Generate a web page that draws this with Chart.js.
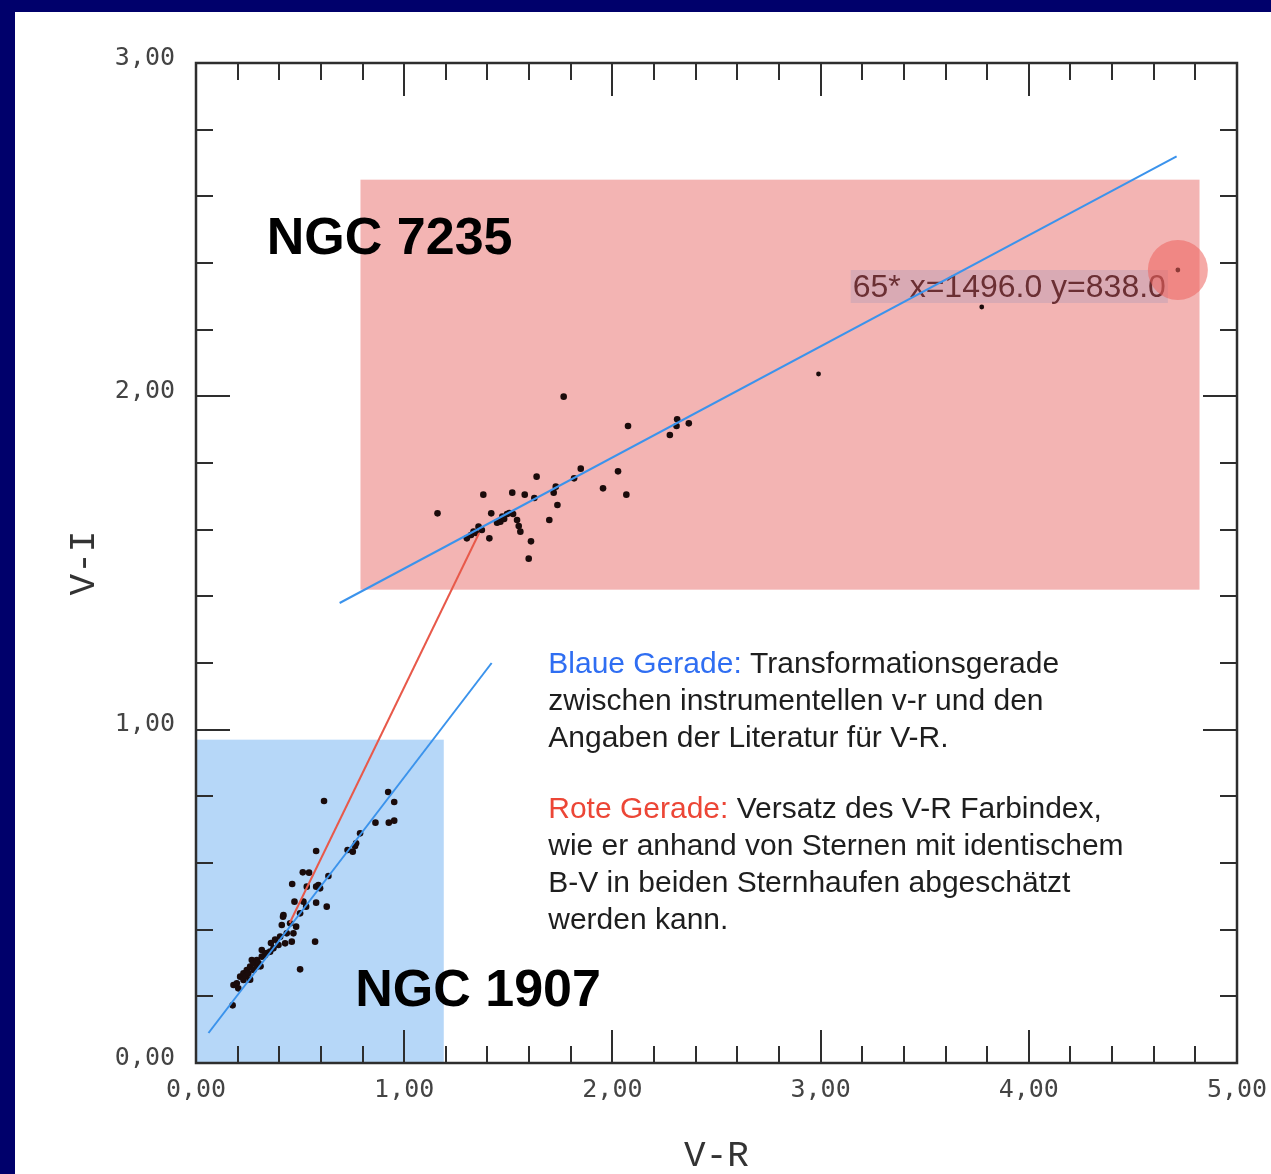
<!DOCTYPE html>
<html lang="de">
<head>
<meta charset="utf-8">
<title>V-R gegen V-I: NGC 1907 und NGC 7235</title>
<script src="https://cdn.jsdelivr.net/npm/chart.js@4.4.1/dist/chart.umd.min.js"></script>
<style>
    html, body { margin: 0; padding: 0; background: #00006b; overflow: hidden; }
    #panel { position: absolute; left: 15px; top: 12px; right: 0; bottom: 0; background: #fff; }
    #wrap { position: absolute; left: 0; top: 0; width: 1271px; height: 1174px; }
</style>
</head>
<body>
<div id="panel"></div>
<div id="wrap"><canvas id="chart" width="1271" height="1174"></canvas></div>
<script>
// Sterne NGC 1907 (V-R, V-I)
const ngc1907X = [0.176, 0.180, 0.196, 0.203, 0.212, 0.228, 0.228, 0.240, 0.244, 0.251, 0.260, 0.260, 0.268, 0.276, 0.276,
    0.292, 0.292, 0.300, 0.310, 0.316, 0.316, 0.332, 0.340, 0.356, 0.360, 0.372, 0.380, 0.396, 0.404, 0.412, 0.418, 0.420,
    0.428, 0.436, 0.452, 0.460, 0.462, 0.468, 0.473, 0.481, 0.500, 0.500, 0.513, 0.516, 0.529, 0.532, 0.543, 0.572,
    0.577, 0.577, 0.577, 0.588, 0.596, 0.615, 0.628, 0.636, 0.728, 0.753, 0.764, 0.769, 0.788, 0.862, 0.923, 0.926,
    0.952, 0.952];
const ngc1907Y = [0.173, 0.234, 0.239, 0.224, 0.259, 0.269, 0.249, 0.260, 0.279, 0.269, 0.289, 0.250, 0.309, 0.299, 0.279,
    0.309, 0.289, 0.300, 0.290, 0.339, 0.319, 0.324, 0.330, 0.334, 0.360, 0.344, 0.370, 0.354, 0.379, 0.414, 0.439, 0.444,
    0.359, 0.389, 0.419, 0.364, 0.537, 0.389, 0.484, 0.409, 0.449, 0.281, 0.572, 0.484, 0.469, 0.529, 0.571, 0.364,
    0.636, 0.529, 0.481, 0.534, 0.524, 0.786, 0.469, 0.561, 0.639, 0.634, 0.651, 0.659, 0.689, 0.721, 0.813, 0.721,
    0.783, 0.727];

// Sterne NGC 7235 (V-R, V-I)
const ngc7235X = [1.160, 1.301, 1.321, 1.333, 1.357, 1.373, 1.380, 1.409, 1.418, 1.446, 1.462, 1.471, 1.494, 1.519,
    1.523, 1.542, 1.550, 1.558, 1.579, 1.598, 1.609, 1.625, 1.636, 1.697, 1.718, 1.728, 1.736, 1.766, 1.816, 1.848,
    1.955, 2.027, 2.067, 2.075, 2.276, 2.308, 2.311, 2.367, 1.345, 1.480, 1.505];
const ngc7235Y = [1.649, 1.574, 1.584, 1.594, 1.609, 1.599, 1.705, 1.574, 1.649, 1.621, 1.624, 1.639, 1.647, 1.711,
    1.647, 1.629, 1.611, 1.594, 1.705, 1.513, 1.565, 1.695, 1.759, 1.629, 1.711, 1.729, 1.674, 1.999, 1.754, 1.783,
    1.724, 1.775, 1.705, 1.911, 1.884, 1.911, 1.931, 1.919, 1.590, 1.632, 1.650];

// helle Einzelsterne NGC 7235
const brightX = [2.990, 3.774, 4.716];
const brightY = [2.067, 2.268, 2.379];

// markierter Stern (Cursor)
const cursorX = [4.716];
const cursorY = [2.379];
const cursorText = '65* x=1496.0 y=838.0';

// Geraden
const fit7235X = [0.69, 4.71];
const fit7235Y = [1.38, 2.72];
const fit1907X = [0.06, 1.42];
const fit1907Y = [0.09, 1.20];
const offsetX = [0.45, 1.36];
const offsetY = [0.42, 1.59];

// Bereiche der Sternhaufen
const box7235X = [0.79, 4.82];
const box7235Y = [1.42, 2.65];
const box1907X = [0, 1.19];
const box1907Y = [0, 0.97];

// Achsen
const xRange = [0, 5];
const yRange = [0, 3];
const minorStep = 0.2;

const toPoints = (xs, ys) => xs.map((x, i) => ({ x: x, y: ys[i] }));
const fmtTick = v => Number(v).toFixed(2).replace('.', ',');

const tickFont = { family: 'DejaVu Sans Mono', size: 25 };
const titleFont = { family: 'Liberation Mono', size: 36, lineHeight: 1 };

// Hintergrundbereiche, Rahmen und Teilstriche
const framePlugin = {
    id: 'framePlugin',
    beforeDatasetsDraw(chart) {
        const { ctx, chartArea: a, scales: { x, y } } = chart;
        ctx.save();

        const fillBox = (bx, by, color) => {
            const x1 = x.getPixelForValue(bx[0]), x2 = x.getPixelForValue(bx[1]);
            const y1 = y.getPixelForValue(by[1]), y2 = y.getPixelForValue(by[0]);
            ctx.fillStyle = color;
            ctx.fillRect(x1, y1, x2 - x1, y2 - y1);
        };
        fillBox(box7235X, box7235Y, '#f3b4b3');
        fillBox(box1907X, box1907Y, '#b6d7f8');

        // Rahmen
        ctx.strokeStyle = '#2e2e2e';
        ctx.lineWidth = 2.5;
        ctx.strokeRect(a.left, a.top, a.right - a.left, a.bottom - a.top);

        // Teilstriche nach innen, auf allen vier Seiten
        ctx.lineWidth = 2;
        ctx.beginPath();
        const nx = Math.round((xRange[1] - xRange[0]) / minorStep);
        for (let i = 1; i < nx; i++) {
            const v = xRange[0] + i * minorStep;
            const len = i % 5 === 0 ? 33 : 17;
            const px = Math.round(x.getPixelForValue(v));
            ctx.moveTo(px, a.bottom); ctx.lineTo(px, a.bottom - len);
            ctx.moveTo(px, a.top); ctx.lineTo(px, a.top + len);
        }
        const ny = Math.round((yRange[1] - yRange[0]) / minorStep);
        for (let i = 1; i < ny; i++) {
            const v = yRange[0] + i * minorStep;
            const len = i % 5 === 0 ? 34 : 17;
            const py = Math.round(y.getPixelForValue(v));
            ctx.moveTo(a.left, py); ctx.lineTo(a.left + len, py);
            ctx.moveTo(a.right, py); ctx.lineTo(a.right - len, py);
        }
        ctx.stroke();

        // Cursor-Anzeige
        ctx.font = '32px "Liberation Sans"';
        const tw = ctx.measureText(cursorText).width;
        const cx = x.getPixelForValue(cursorX[0]) - 12;
        const cy = y.getPixelForValue(cursorY[0]) + 17;
        ctx.fillStyle = '#d9aab4';
        ctx.fillRect(cx - tw - 2, cy - 17, tw + 4, 33);
        ctx.fillStyle = '#6b2f33';
        ctx.textAlign = 'right';
        ctx.textBaseline = 'middle';
        ctx.fillText(cursorText, cx, cy + 1);
        ctx.restore();
    }
};

// Beschriftungen im Diagramm
const labelPlugin = {
    id: 'labelPlugin',
    afterDatasetsDraw(chart) {
        const { ctx, scales: { x, y } } = chart;
        ctx.save();
        ctx.textBaseline = 'middle';
        ctx.textAlign = 'left';
        ctx.fillStyle = '#000';
        ctx.font = 'bold 52px "Liberation Sans"';
        ctx.fillText('NGC 7235', x.getPixelForValue(0.34), y.getPixelForValue(2.469));
        ctx.fillText('NGC 1907', x.getPixelForValue(0.765), y.getPixelForValue(0.213));

        const lines = [
            [['Blaue Gerade:', '#2f6ef2'], [' Transformationsgerade', '#1e1e1e']],
            [['zwischen instrumentellen v-r und den', '#1e1e1e']],
            [['Angaben der Literatur für V-R.', '#1e1e1e']],
            [],
            [['Rote Gerade:', '#ec4636'], [' Versatz des V-R Farbindex,', '#1e1e1e']],
            [['wie er anhand von Sternen mit identischem', '#1e1e1e']],
            [['B-V in beiden Sternhaufen abgeschätzt', '#1e1e1e']],
            [['werden kann.', '#1e1e1e']]
        ];
        ctx.font = '30px "Liberation Sans"';
        const left = x.getPixelForValue(1.692);
        let py = y.getPixelForValue(1.194);
        lines.forEach((parts, i) => {
            let px = left;
            parts.forEach(([text, color]) => {
                ctx.fillStyle = color;
                ctx.fillText(text, px, py);
                px += ctx.measureText(text).width;
            });
            py += i === 2 ? 34 : 37;
        });
        ctx.restore();
    }
};

const pointStyle = { borderWidth: 0, backgroundColor: '#1a0b0b' };
const lineStyle = { showLine: true, pointRadius: 0, borderWidth: 2, fill: false };

new Chart(document.getElementById('chart'), {
    type: 'scatter',
    data: {
        datasets: [
            { label: 'Cursor', data: toPoints(cursorX, cursorY), pointRadius: 30, borderWidth: 0,
              backgroundColor: 'rgba(236, 98, 92, 0.55)' },
            { label: 'NGC 1907 fit', data: toPoints(fit1907X, fit1907Y), borderColor: '#3b93ec', ...lineStyle },
            { label: 'NGC 7235 fit', data: toPoints(fit7235X, fit7235Y), borderColor: '#3b93ec', ...lineStyle },
            { label: 'Versatz', data: toPoints(offsetX, offsetY), borderColor: '#e8594a', ...lineStyle },
            { label: 'NGC 1907', data: toPoints(ngc1907X, ngc1907Y), pointRadius: 3.3, ...pointStyle },
            { label: 'NGC 7235', data: toPoints(ngc7235X, ngc7235Y), pointRadius: 3.3, ...pointStyle },
            { label: 'NGC 7235 hell', data: toPoints(brightX, brightY), pointRadius: 2.4, ...pointStyle }
        ]
    },
    options: {
        responsive: false,
        animation: false,
        events: [],
        layout: { padding: { top: 63, right: 34, left: 0, bottom: 0 } },
        plugins: { legend: { display: false }, tooltip: { enabled: false } },
        scales: {
            x: {
                type: 'linear', position: 'bottom', min: xRange[0], max: xRange[1],
                grid: { display: false, drawTicks: false }, border: { display: false },
                ticks: { stepSize: 1, font: tickFont, color: '#444', padding: 12, maxRotation: 0,
                         autoSkip: false, callback: fmtTick },
                title: { display: true, text: 'V-R', font: titleFont, color: '#333', padding: { top: 0, bottom: 0 } },
                afterFit(scale) {
                    scale.height = 111;
                    scale.paddingLeft = 0;
                    scale.paddingRight = 0;
                }
            },
            y: {
                type: 'linear', position: 'left', min: yRange[0], max: yRange[1],
                grid: { display: false, drawTicks: false }, border: { display: false },
                ticks: { stepSize: 1, font: tickFont, color: '#444', padding: 21, labelOffset: -5,
                         callback: fmtTick },
                title: { display: true, text: 'V-I', font: titleFont, color: '#333', padding: { top: 66, bottom: 0 } },
                afterFit(scale) {
                    scale.width = 196;
                    scale.paddingTop = 0;
                    scale.paddingBottom = 0;
                }
            }
        }
    },
    plugins: [framePlugin, labelPlugin]
});
</script>
</body>
</html>
